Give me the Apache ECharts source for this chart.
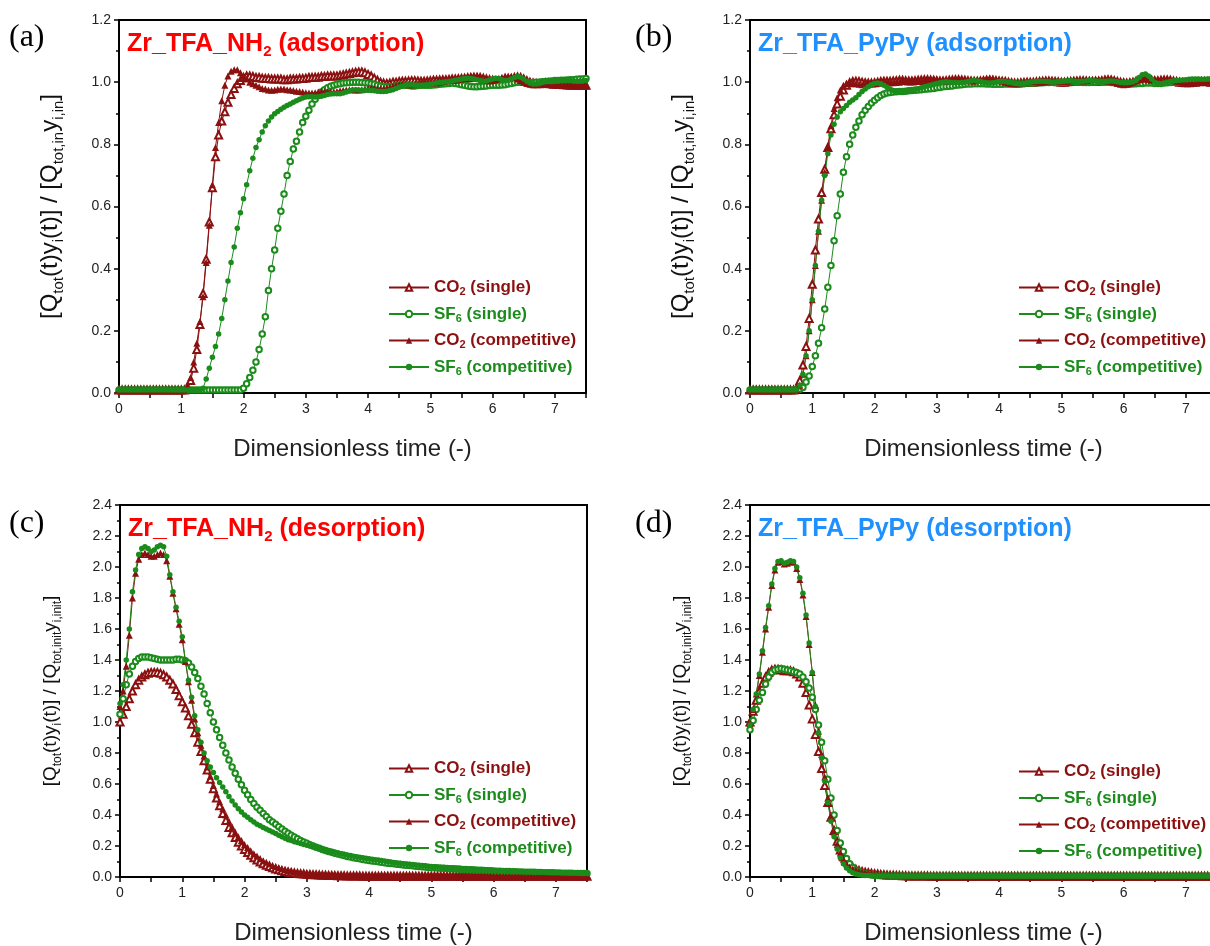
<!DOCTYPE html>
<html>
<head>
<meta charset="utf-8">
<script src="https://cdn.jsdelivr.net/npm/echarts@6/dist/echarts.min.js"></script>
<style>
html, body { margin: 0; padding: 0; background: #fff; }
#main { width: 1210px; height: 946px; }
</style>
</head>
<body>
<div id="main"></div>
<script>
// sampling grid (dimensionless time), one row per unit
var time = [
  0,0.05,0.1,0.15,0.2,0.25,0.3,0.35,0.4,0.45,0.5,0.55,0.6,0.65,0.7,0.75,0.8,0.85,0.9,0.95,
  1,1.05,1.1,1.15,1.2,1.25,1.3,1.35,1.4,1.45,1.5,1.55,1.6,1.65,1.7,1.75,1.8,1.85,1.9,1.95,
  2,2.05,2.1,2.15,2.2,2.25,2.3,2.35,2.4,2.45,2.5,2.55,2.6,2.65,2.7,2.75,2.8,2.85,2.9,2.95,
  3,3.05,3.1,3.15,3.2,3.25,3.3,3.35,3.4,3.45,3.5,3.55,3.6,3.65,3.7,3.75,3.8,3.85,3.9,3.95,
  4,4.05,4.1,4.15,4.2,4.25,4.3,4.35,4.4,4.45,4.5,4.55,4.6,4.65,4.7,4.75,4.8,4.85,4.9,4.95,
  5,5.05,5.1,5.15,5.2,5.25,5.3,5.35,5.4,5.45,5.5,5.55,5.6,5.65,5.7,5.75,5.8,5.85,5.9,5.95,
  6,6.05,6.1,6.15,6.2,6.25,6.3,6.35,6.4,6.45,6.5,6.55,6.6,6.65,6.7,6.75,6.8,6.85,6.9,6.95,
  7,7.05,7.1,7.15,7.2,7.25,7.3,7.35,7.4,7.45,7.5
];

// (a) Zr_TFA_NH2 adsorption
var aCO2Single = [
  0.01,0.01,0.01,0.01,0.01,0.01,0.01,0.01,0.01,0.01,0.01,0.01,0.01,0.01,0.01,0.01,0.01,0.01,0.01,0.01,
  0.01,0.01,0.02,0.04,0.08,0.14,0.22,0.32,0.43,0.55,0.66,0.76,0.83,0.875,0.905,0.935,0.96,0.98,0.995,1.005,
  1.015,1.02,1.02,1.018,1.015,1.015,1.013,1.012,1.012,1.01,1.01,1.01,1.01,1.008,1.008,1.01,1.01,1.01,1.012,1.012,
  1.013,1.015,1.015,1.016,1.016,1.018,1.018,1.02,1.02,1.02,1.02,1.022,1.024,1.026,1.028,1.03,1.032,1.033,1.033,1.03,
  1.025,1.02,1.013,1.006,1.0,0.997,0.996,0.997,1.0,1.0,1.002,1.003,1.003,1.004,1.005,1.005,1.004,1.003,1.003,1.004,
  1.005,1.006,1.006,1.007,1.008,1.008,1.009,1.01,1.01,1.011,1.012,1.013,1.014,1.015,1.016,1.016,1.015,1.013,1.01,1.008,
  1.006,1.004,1.003,1.004,1.006,1.009,1.012,1.015,1.017,1.015,1.01,1.005,1.0,0.997,0.995,0.995,0.996,0.997,0.997,0.996,
  0.995,0.994,0.993,0.992,0.991,0.99,0.99,0.99,0.99,0.99,0.99
];
var aSF6Single = [
  0.01,0.01,0.01,0.01,0.01,0.01,0.01,0.01,0.01,0.01,0.01,0.01,0.01,0.01,0.01,0.01,0.01,0.01,0.01,0.01,
  0.01,0.01,0.01,0.01,0.01,0.01,0.01,0.01,0.01,0.01,0.01,0.01,0.01,0.01,0.01,0.01,0.01,0.01,0.01,0.01,
  0.015,0.03,0.05,0.073,0.1,0.14,0.19,0.245,0.33,0.4,0.46,0.53,0.585,0.64,0.7,0.745,0.785,0.81,0.84,0.87,
  0.89,0.91,0.93,0.945,0.958,0.968,0.976,0.982,0.987,0.99,0.993,0.995,0.997,0.998,0.999,1.0,1.0,1.0,0.999,0.998,
  0.997,0.995,0.993,0.99,0.988,0.986,0.985,0.985,0.986,0.988,0.99,0.99,0.99,0.989,0.988,0.988,0.989,0.99,0.99,0.99,
  0.99,0.991,0.992,0.993,0.994,0.995,0.996,0.997,0.996,0.994,0.992,0.99,0.988,0.986,0.985,0.985,0.986,0.987,0.988,0.989,
  0.99,0.99,0.99,0.991,0.992,0.994,0.996,0.998,1.0,1.0,0.999,0.998,0.998,0.999,1.0,1.0,1.001,1.002,1.003,1.004,
  1.005,1.005,1.006,1.006,1.007,1.008,1.008,1.009,1.01,1.01,1.012
];
var aCO2Comp = [
  0.01,0.01,0.01,0.01,0.01,0.01,0.01,0.01,0.01,0.01,0.01,0.01,0.01,0.01,0.01,0.01,0.01,0.01,0.01,0.01,
  0.01,0.01,0.02,0.05,0.1,0.16,0.23,0.31,0.42,0.54,0.67,0.79,0.87,0.94,0.99,1.02,1.035,1.04,1.04,1.03,
  1.02,1.01,1.0,0.995,0.99,0.985,0.98,0.978,0.975,0.974,0.975,0.977,0.978,0.978,0.976,0.975,0.973,0.971,0.97,0.968,
  0.966,0.965,0.965,0.966,0.968,0.97,0.97,0.969,0.968,0.969,0.97,0.972,0.974,0.975,0.976,0.976,0.975,0.975,0.976,0.978,
  0.98,0.981,0.98,0.979,0.978,0.979,0.981,0.984,0.987,0.99,0.992,0.993,0.993,0.992,0.992,0.993,0.995,0.997,0.998,0.998,
  0.998,0.997,0.998,1.0,1.002,1.004,1.005,1.005,1.006,1.008,1.01,1.013,1.016,1.018,1.018,1.016,1.012,1.008,1.005,1.004,
  1.005,1.008,1.012,1.016,1.02,1.02,1.018,1.014,1.01,1.005,1.0,0.996,0.993,0.992,0.993,0.994,0.995,0.994,0.992,0.99,
  0.99,0.99,0.99,0.99,0.99,0.99,0.99,0.989,0.988,0.988,0.988
];
var aSF6Comp = [
  0.01,0.01,0.01,0.01,0.01,0.01,0.01,0.01,0.01,0.01,0.01,0.01,0.01,0.01,0.01,0.01,0.01,0.01,0.01,0.01,
  0.01,0.01,0.01,0.01,0.01,0.01,0.01,0.015,0.045,0.08,0.115,0.15,0.19,0.24,0.3,0.36,0.42,0.47,0.53,0.58,
  0.625,0.67,0.715,0.755,0.79,0.815,0.84,0.86,0.875,0.888,0.898,0.906,0.913,0.919,0.925,0.93,0.935,0.94,0.945,0.949,
  0.952,0.953,0.953,0.952,0.953,0.955,0.957,0.96,0.962,0.963,0.963,0.963,0.965,0.968,0.972,0.975,0.976,0.975,0.974,0.974,
  0.974,0.973,0.972,0.971,0.97,0.97,0.971,0.973,0.976,0.98,0.984,0.987,0.99,0.991,0.991,0.99,0.99,0.99,0.991,0.992,
  0.993,0.995,0.997,0.999,1.0,1.001,1.002,1.004,1.006,1.008,1.01,1.012,1.013,1.012,1.01,1.008,1.005,1.003,1.004,1.007,
  1.01,1.013,1.012,1.008,1.005,1.006,1.01,1.015,1.018,1.016,1.01,1.003,0.997,0.994,0.994,0.996,0.999,1.001,1.002,1.002,
  1.003,1.004,1.005,1.006,1.006,1.005,1.004,1.003,1.003,1.004,1.005
];

// (b) Zr_TFA_PyPy adsorption
var bCO2Single = [
  0.01,0.01,0.01,0.01,0.01,0.01,0.01,0.01,0.01,0.01,0.01,0.01,0.01,0.01,0.01,0.015,0.04,0.09,0.15,0.24,
  0.35,0.46,0.56,0.645,0.72,0.79,0.85,0.895,0.93,0.955,0.975,0.99,0.998,1.002,1.003,1.002,1.0,0.998,0.997,0.997,
  0.998,1.0,1.002,1.003,1.003,1.003,1.004,1.005,1.006,1.006,1.005,1.004,1.004,1.005,1.006,1.007,1.008,1.008,1.007,1.006,
  1.005,1.004,1.004,1.005,1.006,1.007,1.008,1.008,1.007,1.006,1.005,1.004,1.003,1.003,1.004,1.005,1.006,1.007,1.006,1.005,
  1.004,1.003,1.002,1.0,0.998,0.997,0.997,0.998,0.999,1.0,1.0,1.0,1.001,1.002,1.003,1.004,1.004,1.003,1.002,1.001,
  1.0,1.0,1.001,1.002,1.003,1.004,1.005,1.005,1.004,1.003,1.002,1.002,1.003,1.005,1.007,1.008,1.007,1.005,1.002,1.0,
  0.998,0.997,0.998,1.0,1.003,1.006,1.008,1.009,1.008,1.006,1.005,1.005,1.006,1.007,1.007,1.006,1.004,1.002,1.0,0.999,
  0.998,0.998,0.999,1.0,1.001,1.002,1.002,1.001,1.0,1.0,1.0
];
var bSF6Single = [
  0.01,0.01,0.01,0.01,0.01,0.01,0.01,0.01,0.01,0.01,0.01,0.01,0.01,0.01,0.01,0.01,0.012,0.018,0.035,0.055,
  0.085,0.12,0.16,0.21,0.27,0.34,0.41,0.49,0.57,0.64,0.71,0.76,0.8,0.83,0.855,0.875,0.895,0.91,0.922,0.933,
  0.942,0.95,0.957,0.962,0.965,0.967,0.968,0.969,0.97,0.97,0.971,0.972,0.973,0.974,0.975,0.976,0.977,0.978,0.979,0.98,
  0.982,0.983,0.985,0.986,0.987,0.988,0.99,0.991,0.992,0.993,0.994,0.994,0.995,0.995,0.995,0.995,0.994,0.994,0.993,0.993,
  0.993,0.993,0.994,0.994,0.995,0.995,0.996,0.996,0.996,0.997,0.997,0.997,0.998,0.998,0.998,0.999,0.999,1.0,1.0,1.0,
  1.0,1.0,1.001,1.001,1.001,1.0,1.0,0.999,0.999,0.999,1.0,1.0,1.001,1.001,1.0,1.0,0.999,0.998,0.997,0.996,
  0.996,0.995,0.995,0.995,0.995,0.996,0.996,0.997,0.997,0.997,0.996,0.996,0.996,0.997,0.998,0.999,1.0,1.0,1.0,1.0,
  1.0,1.001,1.002,1.002,1.003,1.003,1.004,1.004,1.004,1.005,1.005
];
var bCO2Comp = [
  0.01,0.01,0.01,0.01,0.01,0.01,0.01,0.01,0.01,0.01,0.01,0.01,0.01,0.01,0.01,0.01,0.025,0.06,0.12,0.2,
  0.3,0.41,0.52,0.62,0.71,0.79,0.86,0.915,0.95,0.975,0.99,0.996,0.998,0.997,0.995,0.993,0.992,0.993,0.995,0.997,
  0.998,0.999,1.0,1.0,0.999,0.998,0.998,0.999,1.0,1.002,1.004,1.005,1.005,1.004,1.003,1.003,1.004,1.006,1.008,1.009,
  1.009,1.008,1.006,1.004,1.003,1.003,1.004,1.005,1.006,1.006,1.005,1.004,1.004,1.006,1.008,1.01,1.012,1.013,1.012,1.01,
  1.007,1.003,1.0,0.997,0.996,0.996,0.997,0.998,1.0,1.001,1.002,1.002,1.001,1.0,1.0,1.001,1.003,1.004,1.004,1.003,
  1.002,1.002,1.003,1.005,1.006,1.006,1.005,1.004,1.005,1.007,1.009,1.01,1.009,1.007,1.005,1.004,1.003,1.0,0.996,0.993,
  0.992,0.993,0.996,1.0,1.004,1.008,1.01,1.01,1.008,1.006,1.005,1.004,1.004,1.005,1.006,1.006,1.005,1.003,1.001,1.0,
  0.999,0.998,0.998,0.999,1.0,1.001,1.002,1.002,1.001,1.0,1.0
];
var bSF6Comp = [
  0.01,0.01,0.01,0.01,0.01,0.01,0.01,0.01,0.01,0.01,0.01,0.01,0.01,0.01,0.01,0.01,0.025,0.06,0.12,0.2,
  0.3,0.41,0.52,0.62,0.7,0.77,0.83,0.865,0.888,0.905,0.915,0.925,0.935,0.943,0.95,0.96,0.97,0.978,0.985,0.992,
  0.996,0.997,0.995,0.99,0.984,0.978,0.973,0.97,0.97,0.971,0.972,0.974,0.975,0.977,0.979,0.982,0.985,0.988,0.99,0.993,
  0.996,0.998,1.0,1.001,1.0,0.999,0.998,0.998,0.999,1.0,1.002,1.004,1.005,1.004,1.002,1.0,0.998,0.997,0.998,1.0,
  1.002,1.003,1.002,1.0,0.998,0.996,0.995,0.995,0.996,0.998,1.0,1.001,1.002,1.003,1.003,1.002,1.001,1.0,1.0,1.001,
  1.002,1.003,1.004,1.004,1.003,1.002,1.002,1.003,1.004,1.005,1.005,1.004,1.003,1.002,1.002,1.003,1.004,1.003,1.001,0.999,
  0.998,0.998,0.999,1.001,1.006,1.015,1.024,1.026,1.02,1.01,1.0,0.996,0.995,0.997,1.0,1.002,1.004,1.005,1.006,1.007,
  1.008,1.009,1.01,1.01,1.01,1.009,1.009,1.01,1.011,1.012,1.012
];

// (c) Zr_TFA_NH2 desorption
var cCO2Single = [
  1.0,1.05,1.1,1.15,1.2,1.24,1.27,1.29,1.305,1.315,1.32,1.32,1.32,1.315,1.305,1.29,1.27,1.245,1.21,1.17,
  1.13,1.09,1.04,0.985,0.93,0.87,0.81,0.75,0.69,0.63,0.57,0.51,0.46,0.41,0.365,0.32,0.285,0.255,0.225,0.2,
  0.178,0.158,0.14,0.124,0.11,0.097,0.086,0.076,0.067,0.059,0.052,0.046,0.041,0.036,0.032,0.029,0.026,0.023,0.021,0.019,
  0.017,0.016,0.015,0.014,0.013,0.012,0.011,0.01,0.0095,0.009,0.0085,0.008,0.0075,0.007,0.007,0.0065,0.006,0.006,0.0055,0.0055,
  0.005,0.005,0.005,0.005,0.005,0.005,0.005,0.005,0.005,0.005,0.005,0.005,0.005,0.005,0.005,0.005,0.005,0.005,0.005,0.005,
  0.005,0.005,0.005,0.005,0.005,0.005,0.005,0.005,0.005,0.005,0.005,0.005,0.005,0.005,0.005,0.005,0.005,0.005,0.005,0.005,
  0.005,0.005,0.005,0.005,0.005,0.005,0.005,0.005,0.005,0.005,0.005,0.005,0.005,0.005,0.005,0.005,0.005,0.005,0.005,0.005,
  0.005,0.005,0.005,0.005,0.005,0.005,0.005,0.005,0.005,0.005,0.005
];
var cSF6Single = [
  1.05,1.15,1.24,1.31,1.36,1.39,1.41,1.42,1.42,1.42,1.415,1.41,1.405,1.4,1.4,1.4,1.4,1.4,1.405,1.405,
  1.4,1.395,1.38,1.355,1.32,1.28,1.23,1.18,1.12,1.06,1.0,0.95,0.9,0.85,0.8,0.755,0.71,0.67,0.63,0.595,
  0.56,0.53,0.5,0.475,0.45,0.43,0.41,0.39,0.37,0.355,0.34,0.325,0.31,0.295,0.282,0.27,0.258,0.247,0.236,0.226,
  0.217,0.208,0.2,0.192,0.185,0.178,0.171,0.165,0.159,0.153,0.148,0.143,0.138,0.133,0.129,0.125,0.121,0.117,0.113,0.11,
  0.107,0.104,0.101,0.098,0.095,0.092,0.089,0.087,0.085,0.083,0.08,0.078,0.076,0.074,0.072,0.07,0.068,0.066,0.064,0.062,
  0.06,0.059,0.058,0.057,0.056,0.055,0.054,0.053,0.052,0.051,0.049,0.048,0.047,0.046,0.045,0.044,0.043,0.042,0.041,0.04,
  0.038,0.037,0.037,0.036,0.035,0.035,0.034,0.034,0.033,0.032,0.031,0.031,0.03,0.03,0.029,0.029,0.028,0.028,0.027,0.027,
  0.026,0.026,0.025,0.025,0.024,0.024,0.023,0.023,0.023,0.022,0.022
];
var cCO2Comp = [
  1.1,1.2,1.36,1.56,1.8,1.96,2.05,2.08,2.09,2.08,2.07,2.07,2.08,2.09,2.08,2.04,1.94,1.83,1.73,1.63,
  1.53,1.39,1.26,1.14,1.02,0.93,0.85,0.78,0.71,0.65,0.59,0.535,0.485,0.44,0.4,0.36,0.325,0.29,0.26,0.235,
  0.21,0.19,0.17,0.15,0.135,0.12,0.105,0.095,0.085,0.075,0.067,0.06,0.053,0.047,0.042,0.037,0.033,0.03,0.027,0.024,
  0.022,0.02,0.018,0.016,0.015,0.014,0.013,0.012,0.011,0.01,0.009,0.0085,0.008,0.0075,0.007,0.0065,0.006,0.006,0.0055,0.0055,
  0.005,0.005,0.005,0.005,0.005,0.005,0.005,0.005,0.005,0.005,0.005,0.005,0.005,0.005,0.005,0.005,0.005,0.005,0.005,0.005,
  0.005,0.005,0.005,0.005,0.005,0.005,0.005,0.005,0.005,0.005,0.005,0.005,0.005,0.005,0.005,0.005,0.005,0.005,0.005,0.005,
  0.005,0.005,0.005,0.005,0.005,0.005,0.005,0.005,0.005,0.005,0.005,0.005,0.005,0.005,0.005,0.005,0.005,0.005,0.005,0.005,
  0.005,0.005,0.005,0.005,0.005,0.005,0.005,0.005,0.005,0.005,0.005
];
var cSF6Comp = [
  1.12,1.24,1.4,1.6,1.84,1.98,2.08,2.12,2.13,2.12,2.1,2.11,2.13,2.14,2.13,2.07,1.95,1.84,1.74,1.65,
  1.55,1.4,1.27,1.16,1.04,0.95,0.87,0.8,0.75,0.71,0.675,0.64,0.61,0.58,0.55,0.52,0.49,0.465,0.44,0.42,
  0.4,0.385,0.37,0.355,0.34,0.33,0.32,0.31,0.3,0.29,0.28,0.27,0.26,0.25,0.24,0.235,0.228,0.222,0.216,0.21,
  0.205,0.2,0.195,0.19,0.185,0.18,0.175,0.17,0.165,0.16,0.155,0.15,0.146,0.142,0.138,0.134,0.13,0.127,0.124,0.121,
  0.118,0.115,0.112,0.109,0.106,0.103,0.1,0.097,0.094,0.091,0.088,0.086,0.084,0.082,0.08,0.078,0.076,0.074,0.072,0.07,
  0.068,0.066,0.064,0.063,0.062,0.06,0.058,0.057,0.056,0.054,0.052,0.051,0.05,0.049,0.048,0.047,0.046,0.045,0.044,0.043,
  0.042,0.041,0.04,0.039,0.038,0.037,0.036,0.036,0.035,0.034,0.033,0.033,0.032,0.031,0.031,0.03,0.03,0.029,0.028,0.028,
  0.027,0.027,0.026,0.026,0.025,0.025,0.024,0.024,0.023,0.023,0.022
];

// (d) Zr_TFA_PyPy desorption
var dCO2Single = [
  1.0,1.07,1.14,1.2,1.25,1.29,1.32,1.335,1.34,1.34,1.335,1.33,1.33,1.33,1.325,1.31,1.29,1.25,1.19,1.11,
  1.02,0.92,0.81,0.7,0.59,0.48,0.385,0.3,0.23,0.175,0.13,0.1,0.078,0.062,0.05,0.042,0.036,0.031,0.027,0.024,
  0.021,0.019,0.017,0.015,0.013,0.012,0.011,0.01,0.009,0.008,0.008,0.007,0.007,0.007,0.006,0.006,0.006,0.006,0.005,0.005,
  0.005,0.005,0.005,0.005,0.005,0.005,0.005,0.005,0.005,0.005,0.005,0.005,0.005,0.005,0.005,0.005,0.005,0.005,0.005,0.005,
  0.005,0.005,0.005,0.005,0.005,0.005,0.005,0.005,0.005,0.005,0.005,0.005,0.005,0.005,0.005,0.005,0.005,0.005,0.005,0.005,
  0.005,0.005,0.005,0.005,0.005,0.005,0.005,0.005,0.005,0.005,0.005,0.005,0.005,0.005,0.005,0.005,0.005,0.005,0.005,0.005,
  0.005,0.005,0.005,0.005,0.005,0.005,0.005,0.005,0.005,0.005,0.005,0.005,0.005,0.005,0.005,0.005,0.005,0.005,0.005,0.005,
  0.005,0.005,0.005,0.005,0.005,0.005,0.005,0.005,0.005,0.005,0.005
];
var dSF6Single = [
  0.95,1.01,1.08,1.14,1.19,1.245,1.29,1.32,1.335,1.34,1.345,1.34,1.335,1.33,1.325,1.32,1.31,1.29,1.26,1.22,
  1.16,1.08,0.98,0.87,0.75,0.63,0.51,0.4,0.3,0.22,0.165,0.12,0.085,0.062,0.045,0.035,0.027,0.021,0.017,0.014,
  0.012,0.01,0.009,0.008,0.007,0.007,0.006,0.006,0.006,0.005,0.005,0.005,0.005,0.005,0.005,0.005,0.005,0.005,0.005,0.005,
  0.005,0.005,0.005,0.005,0.005,0.005,0.005,0.005,0.005,0.005,0.005,0.005,0.005,0.005,0.005,0.005,0.005,0.005,0.005,0.005,
  0.005,0.005,0.005,0.005,0.005,0.005,0.005,0.005,0.005,0.005,0.005,0.005,0.005,0.005,0.005,0.005,0.005,0.005,0.005,0.005,
  0.005,0.005,0.005,0.005,0.005,0.005,0.005,0.005,0.005,0.005,0.005,0.005,0.005,0.005,0.005,0.005,0.005,0.005,0.005,0.005,
  0.005,0.005,0.005,0.005,0.005,0.005,0.005,0.005,0.005,0.005,0.005,0.005,0.005,0.005,0.005,0.005,0.005,0.005,0.005,0.005,
  0.005,0.005,0.005,0.005,0.005,0.005,0.005,0.005,0.005,0.005,0.005
];
var dCO2Comp = [
  0.99,1.08,1.18,1.3,1.45,1.6,1.74,1.88,1.98,2.03,2.035,2.02,2.025,2.035,2.03,1.99,1.92,1.82,1.68,1.5,
  1.32,1.11,0.94,0.79,0.645,0.51,0.39,0.29,0.21,0.155,0.115,0.085,0.065,0.052,0.043,0.036,0.031,0.027,0.024,0.021,
  0.019,0.017,0.015,0.013,0.012,0.011,0.01,0.009,0.009,0.008,0.008,0.007,0.007,0.007,0.006,0.006,0.006,0.006,0.005,0.005,
  0.005,0.005,0.005,0.005,0.005,0.005,0.005,0.005,0.005,0.005,0.005,0.005,0.005,0.005,0.005,0.005,0.005,0.005,0.005,0.005,
  0.005,0.005,0.005,0.005,0.005,0.005,0.005,0.005,0.005,0.005,0.005,0.005,0.005,0.005,0.005,0.005,0.005,0.005,0.005,0.005,
  0.005,0.005,0.005,0.005,0.005,0.005,0.005,0.005,0.005,0.005,0.005,0.005,0.005,0.005,0.005,0.005,0.005,0.005,0.005,0.005,
  0.005,0.005,0.005,0.005,0.005,0.005,0.005,0.005,0.005,0.005,0.005,0.005,0.005,0.005,0.005,0.005,0.005,0.005,0.005,0.005,
  0.005,0.005,0.005,0.005,0.005,0.005,0.005,0.005,0.005,0.005,0.005
];
var dSF6Comp = [
  0.98,1.08,1.18,1.31,1.46,1.61,1.75,1.89,1.99,2.035,2.04,2.025,2.03,2.04,2.035,2.0,1.93,1.83,1.69,1.51,
  1.32,1.1,0.93,0.77,0.62,0.48,0.36,0.26,0.18,0.125,0.085,0.058,0.04,0.028,0.02,0.015,0.012,0.01,0.009,0.008,
  0.007,0.007,0.006,0.006,0.006,0.005,0.005,0.005,0.005,0.005,0.005,0.005,0.005,0.005,0.005,0.005,0.005,0.005,0.005,0.005,
  0.005,0.005,0.005,0.005,0.005,0.005,0.005,0.005,0.005,0.005,0.005,0.005,0.005,0.005,0.005,0.005,0.005,0.005,0.005,0.005,
  0.005,0.005,0.005,0.005,0.005,0.005,0.005,0.005,0.005,0.005,0.005,0.005,0.005,0.005,0.005,0.005,0.005,0.005,0.005,0.005,
  0.005,0.005,0.005,0.005,0.005,0.005,0.005,0.005,0.005,0.005,0.005,0.005,0.005,0.005,0.005,0.005,0.005,0.005,0.005,0.005,
  0.005,0.005,0.005,0.005,0.005,0.005,0.005,0.005,0.005,0.005,0.005,0.005,0.005,0.005,0.005,0.005,0.005,0.005,0.005,0.005,
  0.005,0.005,0.005,0.005,0.005,0.005,0.005,0.005,0.005,0.005,0.005
];

var seriesNames = ['CO2 (single)', 'SF6 (single)', 'CO2 (competitive)', 'SF6 (competitive)'];
var RED = '#8b1111', GREEN = '#1b8c1b';
var FONT = 'Arial, "Liberation Sans", sans-serif';

var panels = [
  { left: 119, top: 20, ymax: 1.2, letter: '(a)', letterX: 9, letterY: 22,
    title: 'Zr_TFA_NH{ts|2} (adsorption)', titleColor: '#ff0000',
    yname: '[Q{s|tot}(t)y{s|i}(t)] / [Q{s|tot,in}y{s|i,in}]', ynameSize: 24, ynameGap: 53,
    data: [aCO2Single, aSF6Single, aCO2Comp, aSF6Comp], legendLeft: 388, legendTop: 279 },
  { left: 750, top: 20, ymax: 1.2, letter: '(b)', letterX: 635, letterY: 22,
    title: 'Zr_TFA_PyPy (adsorption)', titleColor: '#1e90ff',
    yname: '[Q{s|tot}(t)y{s|i}(t)] / [Q{s|tot,in}y{s|i,in}]', ynameSize: 24, ynameGap: 53,
    data: [bCO2Single, bSF6Single, bCO2Comp, bSF6Comp], legendLeft: 1018, legendTop: 279 },
  { left: 120, top: 505, ymax: 2.4, letter: '(c)', letterX: 9, letterY: 508,
    title: 'Zr_TFA_NH{ts|2} (desorption)', titleColor: '#ff0000',
    yname: '[Q{s|tot}(t)y{s|i}(t)] / [Q{s|tot,init}y{s|i,init}]', ynameSize: 19, ynameGap: 56,
    data: [cCO2Single, cSF6Single, cCO2Comp, cSF6Comp], legendLeft: 388, legendTop: 760 },
  { left: 750, top: 505, ymax: 2.4, letter: '(d)', letterX: 635, letterY: 508,
    title: 'Zr_TFA_PyPy (desorption)', titleColor: '#1e90ff',
    yname: '[Q{s|tot}(t)y{s|i}(t)] / [Q{s|tot,init}y{s|i,init}]', ynameSize: 19, ynameGap: 56,
    data: [dCO2Single, dSF6Single, dCO2Comp, dSF6Comp], legendLeft: 1018, legendTop: 763 }
];

var styles = [
  { color: RED, symbol: 'emptyTriangle', size: 7, border: 1 },
  { color: GREEN, symbol: 'emptyCircle', size: 5.5, border: 1 },
  { color: RED, symbol: 'triangle', size: 7, border: 0 },
  { color: GREEN, symbol: 'circle', size: 5.5, border: 0 }
];

var legendText = {
  'CO2 (single)': '{r|CO}{rs|2}{r| (single)}',
  'SF6 (single)': '{g|SF}{gs|6}{g| (single)}',
  'CO2 (competitive)': '{r|CO}{rs|2}{r| (competitive)}',
  'SF6 (competitive)': '{g|SF}{gs|6}{g| (competitive)}'
};

var grid = [], xAxis = [], yAxis = [], series = [], legend = [], title = [], graphic = [];

panels.forEach(function (p, k) {
  grid.push({ left: p.left, top: p.top, width: 467, height: p.ymax > 2 ? 372 : 373,
    outerBoundsMode: 'none', containLabel: false,
    show: true, borderColor: '#000', borderWidth: 2 });
  xAxis.push({
    gridIndex: k, type: 'value', min: 0, max: 7.5, interval: 0.5,
    axisLine: { onZero: false, lineStyle: { color: '#000', width: 2 } },
    axisTick: { length: 5, lineStyle: { color: '#000', width: 1.5 } },
    axisLabel: { color: '#222', fontSize: 14, fontFamily: FONT, margin: 9,
      formatter: function (v) { return Math.abs(v - Math.round(v)) < 1e-6 && v < 7.4 ? String(Math.round(v)) : ''; } },
    splitLine: { show: false },
    name: 'Dimensionless time (-)', nameLocation: 'middle', nameGap: 44,
    nameTextStyle: { color: '#222', fontSize: 24, fontFamily: FONT }
  });
  var subSize = Math.round(p.ynameSize * 0.63);
  yAxis.push({
    gridIndex: k, type: 'value', min: 0, max: p.ymax, interval: 0.2,
    axisLine: { lineStyle: { color: '#000', width: 2 } },
    axisTick: { length: 5, lineStyle: { color: '#000', width: 1.5 } },
    minorTick: { show: true, splitNumber: 2, length: 3, lineStyle: { color: '#000', width: 1.5 } },
    axisLabel: { color: '#222', fontSize: 14, fontFamily: FONT, margin: 8,
      formatter: function (v) { return v.toFixed(1); } },
    splitLine: { show: false },
    name: p.yname, nameLocation: 'middle', nameRotate: 90, nameGap: p.ynameGap,
    nameTextStyle: { color: '#111', fontSize: p.ynameSize, fontFamily: FONT, lineHeight: Math.round(p.ynameSize * 1.35),
      rich: { s: { color: '#111', fontSize: subSize, fontFamily: FONT, verticalAlign: 'bottom', lineHeight: subSize } } }
  });
  p.data.forEach(function (vals, j) {
    var st = styles[j];
    series.push({
      name: seriesNames[j], type: 'line', xAxisIndex: k, yAxisIndex: k,
      data: time.map(function (t, i) { return [t, vals[i]]; }),
      symbol: st.symbol, symbolSize: st.size, showSymbol: true,
      lineStyle: { color: st.color, width: 1 },
      itemStyle: { color: st.color, borderColor: st.color, borderWidth: st.border },
      emphasis: { disabled: true }
    });
  });
  legend.push({
    orient: 'vertical', left: p.legendLeft, top: p.legendTop, padding: 0,
    itemWidth: 40, itemHeight: 8, itemGap: 8, selectedMode: false,
    data: seriesNames,
    formatter: function (n) { return legendText[n]; },
    textStyle: {
      rich: {
        r: { color: RED, fontWeight: 'bold', fontSize: 17, fontFamily: FONT, lineHeight: 20 },
        rs: { color: RED, fontWeight: 'bold', fontSize: 11, fontFamily: FONT, verticalAlign: 'bottom', lineHeight: 8 },
        g: { color: GREEN, fontWeight: 'bold', fontSize: 17, fontFamily: FONT, lineHeight: 20 },
        gs: { color: GREEN, fontWeight: 'bold', fontSize: 11, fontFamily: FONT, verticalAlign: 'bottom', lineHeight: 8 }
      }
    }
  });
  title.push({
    text: p.title, left: p.left + 8, top: p.top + 9, padding: 0,
    textStyle: { color: p.titleColor, fontWeight: 'bold', fontSize: 25, fontFamily: FONT, lineHeight: 30,
      rich: { ts: { color: p.titleColor, fontWeight: 'bold', fontSize: 15, fontFamily: FONT, verticalAlign: 'bottom', lineHeight: 13 } } }
  });
  graphic.push({
    type: 'text', left: p.letterX, top: p.letterY,
    style: { text: p.letter, fill: '#000', font: '32px "Liberation Serif", "Times New Roman", serif' }
  });
});

var chart = echarts.init(document.getElementById('main'), null, { renderer: 'canvas' });
chart.setOption({
  animation: false,
  backgroundColor: '#fff',
  grid: grid, xAxis: xAxis, yAxis: yAxis, series: series,
  legend: legend, title: title, graphic: graphic
});
</script>
</body>
</html>
